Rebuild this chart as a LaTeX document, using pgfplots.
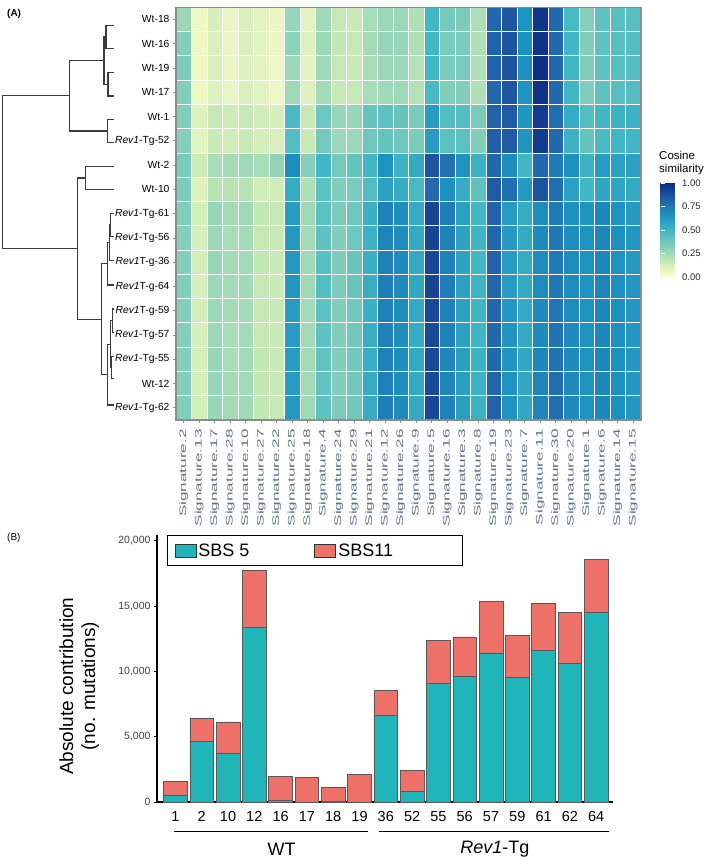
\documentclass[border=0pt]{standalone}
\usepackage{fontspec}
\setmainfont{Liberation Sans}
\usepackage{pgfplots}
\pgfplotsset{compat=1.18}
\definecolor{sbsteal}{RGB}{32,181,184}
\definecolor{sbsred}{RGB}{237,113,104}
\definecolor{sigcol}{RGB}{100,112,140}
\definecolor{framegray}{RGB}{140,140,140}
\definecolor{dendro}{RGB}{60,60,60}
\pgfplotsset{colormap={ylgnbu}{rgb255=(255,255,204) rgb255=(199,233,180) rgb255=(127,205,187) rgb255=(65,182,196) rgb255=(29,145,192) rgb255=(34,94,168) rgb255=(12,44,132)}}
\begin{document}
\begin{tikzpicture}
\useasboundingbox (0pt,0pt) rectangle (709pt,861pt);
% ---------------- dendrogram ----------------
\begin{axis}[at={(0pt,441pt)}, anchor=south west, scale only axis, width=176pt, height=420pt,
  xmin=0, xmax=176, ymin=0, ymax=420, y dir=reverse, hide axis, clip=false]
\addplot[dendro, line width=1.2pt] coordinates {(114.3,25.3) (106,25.3) (106,48.3) (114.3,48.3)};
\addplot[dendro, line width=1.2pt] coordinates {(114.3,72.3) (108,72.3) (108,96) (114.3,96)};
\addplot[dendro, line width=1.2pt] coordinates {(106,36.8) (104,36.8) (104,84.15) (108,84.15)};
\addplot[dendro, line width=1.2pt] coordinates {(114.3,119.3) (107.3,119.3) (107.3,142.7) (114.3,142.7)};
\addplot[dendro, line width=1.2pt] coordinates {(104,60.5) (69.3,60.5) (69.3,131) (107.3,131)};
\addplot[dendro, line width=1.2pt] coordinates {(114.3,166.7) (85.7,166.7) (85.7,189.3) (114.3,189.3)};
\addplot[dendro, line width=1.2pt] coordinates {(114.3,213.3) (110.5,213.3) (110.5,236.7) (114.3,236.7)};
\addplot[dendro, line width=1.2pt] coordinates {(110.5,225) (109.5,225) (109.5,260.7) (114.3,260.7)};
\addplot[dendro, line width=1.2pt] coordinates {(109.5,242.85) (107.3,242.85) (107.3,285) (114.3,285)};
\addplot[dendro, line width=1.2pt] coordinates {(114.3,309) (112.3,309) (112.3,332.7) (114.3,332.7)};
\addplot[dendro, line width=1.2pt] coordinates {(114.3,356.7) (111.3,356.7) (111.3,378.3) (114.3,378.3)};
\addplot[dendro, line width=1.2pt] coordinates {(112.3,320.85) (110.3,320.85) (110.3,367.5) (111.3,367.5)};
\addplot[dendro, line width=1.2pt] coordinates {(110.3,344.2) (107.3,344.2) (107.3,405) (114.3,405)};
\addplot[dendro, line width=1.2pt] coordinates {(107.3,263.9) (101.7,263.9) (101.7,374.6) (107.3,374.6)};
\addplot[dendro, line width=1.2pt] coordinates {(85.7,178) (77.3,178) (77.3,319.25) (101.7,319.25)};
\addplot[dendro, line width=1.2pt] coordinates {(69.3,95.75) (2.7,95.75) (2.7,248.6) (77.3,248.6)};
\end{axis}
% ---------------- heatmap ----------------
\begin{axis}[at={(176pt,441pt)}, anchor=south west, scale only axis, width=465pt, height=412.7pt,
  xmin=0.5, xmax=30.5, ymin=0.5, ymax=17.5, y dir=reverse, enlargelimits=false,
  colormap name=ylgnbu, point meta min=0, point meta max=1,
  xtick={1,...,30},
  xticklabels={Signature.2,Signature.13,Signature.17,Signature.28,Signature.10,Signature.27,Signature.22,Signature.25,Signature.18,Signature.4,Signature.24,Signature.29,Signature.21,Signature.12,Signature.26,Signature.9,Signature.5,Signature.16,Signature.3,Signature.8,Signature.19,Signature.23,Signature.7,Signature.11,Signature.30,Signature.20,Signature.1,Signature.6,Signature.14,Signature.15},
  ytick={1,...,17},
  yticklabels={Wt-18,Wt-16,Wt-19,Wt-17,Wt-1,\textit{Rev1}-Tg-52,Wt-2,Wt-10,\textit{Rev1}-Tg-61,\textit{Rev1}-Tg-56,\textit{Rev1}T-g-36,\textit{Rev1}T-g-64,\textit{Rev1}T-g-59,\textit{Rev1}-Tg-57,\textit{Rev1}-Tg-55,Wt-12,\textit{Rev1}-Tg-62},
  minor xtick={1.5,2.5,...,29.5}, minor ytick={1.5,2.5,...,16.5},
  xminorgrids=true, yminorgrids=true, minor grid style={white, line width=0.9pt},
  minor tick length=0pt,
  axis on top, tick pos=left, tick align=outside, major tick length=3pt,
  major tick style={framegray, line width=0.8pt},
  axis line style={framegray, line width=1.4pt},
  xticklabel style={rotate=90, xscale=1.8, anchor=east, font=\fontsize{9.5}{9.5}\selectfont, text=sigcol},
  yticklabel style={font=\fontsize{10.3}{10.3}\selectfont},
  colorbar,
  colorbar style={at={(652pt,584pt)}, anchor=south west, scale only axis, width=18pt, height=94pt,
    ytick={0,0.25,0.5,0.75,1}, yticklabels={0.00,0.25,0.50,0.75,1.00},
    ytick pos=both, yticklabel pos=right, tick align=inside, major tick length=4pt,
    major tick style={white, line width=0.9pt}, axis line style={draw=none},
    yticklabel style={font=\fontsize{9.5}{9.5}\selectfont, text=black!85}},
]
\addplot[matrix plot*, mesh/cols=30, point meta=explicit] coordinates {
(1,1)[0.27] (2,1)[0.05] (3,1)[0.12] (4,1)[0.07] (5,1)[0.11] (6,1)[0.09] (7,1)[0.06] (8,1)[0.28] (9,1)[0.09] (10,1)[0.26] (11,1)[0.17] (12,1)[0.16] (13,1)[0.24] (14,1)[0.27] (15,1)[0.27] (16,1)[0.22] (17,1)[0.50] (18,1)[0.36] (19,1)[0.34] (20,1)[0.23] (21,1)[0.80] (22,1)[0.86] (23,1)[0.66] (24,1)[0.97] (25,1)[0.80] (26,1)[0.48] (27,1)[0.32] (28,1)[0.42] (29,1)[0.44] (30,1)[0.44]
(1,2)[0.32] (2,2)[0.05] (3,2)[0.11] (4,2)[0.07] (5,2)[0.11] (6,2)[0.08] (7,2)[0.06] (8,2)[0.30] (9,2)[0.10] (10,2)[0.27] (11,2)[0.18] (12,2)[0.17] (13,2)[0.25] (14,2)[0.28] (15,2)[0.28] (16,2)[0.22] (17,2)[0.50] (18,2)[0.35] (19,2)[0.35] (20,2)[0.22] (21,2)[0.82] (22,2)[0.87] (23,2)[0.67] (24,2)[0.98] (25,2)[0.80] (26,2)[0.50] (27,2)[0.33] (28,2)[0.42] (29,2)[0.44] (30,2)[0.45]
(1,3)[0.34] (2,3)[0.05] (3,3)[0.11] (4,3)[0.06] (5,3)[0.10] (6,3)[0.08] (7,3)[0.05] (8,3)[0.27] (9,3)[0.09] (10,3)[0.26] (11,3)[0.17] (12,3)[0.16] (13,3)[0.24] (14,3)[0.27] (15,3)[0.27] (16,3)[0.21] (17,3)[0.50] (18,3)[0.35] (19,3)[0.35] (20,3)[0.22] (21,3)[0.82] (22,3)[0.87] (23,3)[0.67] (24,3)[0.99] (25,3)[0.80] (26,3)[0.50] (27,3)[0.33] (28,3)[0.42] (29,3)[0.44] (30,3)[0.45]
(1,4)[0.33] (2,4)[0.05] (3,4)[0.10] (4,4)[0.07] (5,4)[0.11] (6,4)[0.09] (7,4)[0.05] (8,4)[0.26] (9,4)[0.10] (10,4)[0.25] (11,4)[0.17] (12,4)[0.17] (13,4)[0.24] (14,4)[0.26] (15,4)[0.26] (16,4)[0.21] (17,4)[0.48] (18,4)[0.33] (19,4)[0.33] (20,4)[0.22] (21,4)[0.80] (22,4)[0.86] (23,4)[0.66] (24,4)[0.98] (25,4)[0.80] (26,4)[0.50] (27,4)[0.33] (28,4)[0.42] (29,4)[0.44] (30,4)[0.45]
(1,5)[0.33] (2,5)[0.10] (3,5)[0.17] (4,5)[0.15] (5,5)[0.17] (6,5)[0.14] (7,5)[0.12] (8,5)[0.47] (9,5)[0.17] (10,5)[0.38] (11,5)[0.28] (12,5)[0.28] (13,5)[0.40] (14,5)[0.42] (15,5)[0.40] (16,5)[0.35] (17,5)[0.62] (18,5)[0.45] (19,5)[0.45] (20,5)[0.35] (21,5)[0.82] (22,5)[0.85] (23,5)[0.65] (24,5)[0.95] (25,5)[0.78] (26,5)[0.55] (27,5)[0.45] (28,5)[0.50] (29,5)[0.52] (30,5)[0.52]
(1,6)[0.32] (2,6)[0.09] (3,6)[0.16] (4,6)[0.14] (5,6)[0.16] (6,6)[0.13] (7,6)[0.11] (8,6)[0.45] (9,6)[0.16] (10,6)[0.36] (11,6)[0.27] (12,6)[0.27] (13,6)[0.38] (14,6)[0.40] (15,6)[0.38] (16,6)[0.34] (17,6)[0.62] (18,6)[0.43] (19,6)[0.43] (20,6)[0.33] (21,6)[0.83] (22,6)[0.85] (23,6)[0.65] (24,6)[0.95] (25,6)[0.80] (26,6)[0.52] (27,6)[0.40] (28,6)[0.48] (29,6)[0.50] (30,6)[0.50]
(1,7)[0.35] (2,7)[0.15] (3,7)[0.24] (4,7)[0.25] (5,7)[0.26] (6,7)[0.24] (7,7)[0.29] (8,7)[0.68] (9,7)[0.32] (10,7)[0.50] (11,7)[0.36] (12,7)[0.40] (13,7)[0.50] (14,7)[0.66] (15,7)[0.52] (16,7)[0.56] (17,7)[0.87] (18,7)[0.77] (19,7)[0.66] (20,7)[0.52] (21,7)[0.80] (22,7)[0.68] (23,7)[0.50] (24,7)[0.80] (25,7)[0.74] (26,7)[0.67] (27,7)[0.52] (28,7)[0.62] (29,7)[0.60] (30,7)[0.60]
(1,8)[0.34] (2,8)[0.10] (3,8)[0.20] (4,8)[0.20] (5,8)[0.20] (6,8)[0.14] (7,8)[0.14] (8,8)[0.55] (9,8)[0.22] (10,8)[0.42] (11,8)[0.33] (12,8)[0.35] (13,8)[0.45] (14,8)[0.60] (15,8)[0.55] (16,8)[0.48] (17,8)[0.80] (18,8)[0.67] (19,8)[0.55] (20,8)[0.42] (21,8)[0.85] (22,8)[0.78] (23,8)[0.63] (24,8)[0.87] (25,8)[0.78] (26,8)[0.60] (27,8)[0.50] (28,8)[0.58] (29,8)[0.58] (30,8)[0.56]
(1,9)[0.33] (2,9)[0.13] (3,9)[0.28] (4,9)[0.25] (5,9)[0.26] (6,9)[0.18] (7,9)[0.17] (8,9)[0.62] (9,9)[0.26] (10,9)[0.43] (11,9)[0.34] (12,9)[0.38] (13,9)[0.53] (14,9)[0.72] (15,9)[0.68] (16,9)[0.55] (17,9)[0.92] (18,9)[0.73] (19,9)[0.60] (20,9)[0.50] (21,9)[0.82] (22,9)[0.62] (23,9)[0.55] (24,9)[0.68] (25,9)[0.74] (26,9)[0.67] (27,9)[0.65] (28,9)[0.70] (29,9)[0.66] (30,9)[0.63]
(1,10)[0.32] (2,10)[0.12] (3,10)[0.27] (4,10)[0.24] (5,10)[0.25] (6,10)[0.17] (7,10)[0.16] (8,10)[0.63] (9,10)[0.25] (10,10)[0.42] (11,10)[0.33] (12,10)[0.38] (13,10)[0.52] (14,10)[0.71] (15,10)[0.68] (16,10)[0.56] (17,10)[0.92] (18,10)[0.72] (19,10)[0.59] (20,10)[0.51] (21,10)[0.81] (22,10)[0.63] (23,10)[0.56] (24,10)[0.69] (25,10)[0.75] (26,10)[0.68] (27,10)[0.66] (28,10)[0.70] (29,10)[0.67] (30,10)[0.64]
(1,11)[0.32] (2,11)[0.13] (3,11)[0.28] (4,11)[0.25] (5,11)[0.25] (6,11)[0.18] (7,11)[0.16] (8,11)[0.63] (9,11)[0.26] (10,11)[0.44] (11,11)[0.34] (12,11)[0.39] (13,11)[0.53] (14,11)[0.72] (15,11)[0.69] (16,11)[0.56] (17,11)[0.91] (18,11)[0.72] (19,11)[0.59] (20,11)[0.50] (21,11)[0.82] (22,11)[0.62] (23,11)[0.55] (24,11)[0.68] (25,11)[0.74] (26,11)[0.68] (27,11)[0.66] (28,11)[0.70] (29,11)[0.66] (30,11)[0.63]
(1,12)[0.33] (2,12)[0.12] (3,12)[0.27] (4,12)[0.25] (5,12)[0.26] (6,12)[0.17] (7,12)[0.16] (8,12)[0.64] (9,12)[0.26] (10,12)[0.45] (11,12)[0.34] (12,12)[0.39] (13,12)[0.54] (14,12)[0.73] (15,12)[0.69] (16,12)[0.57] (17,12)[0.92] (18,12)[0.73] (19,12)[0.60] (20,12)[0.51] (21,12)[0.81] (22,12)[0.62] (23,12)[0.56] (24,12)[0.68] (25,12)[0.75] (26,12)[0.68] (27,12)[0.66] (28,12)[0.71] (29,12)[0.67] (30,12)[0.64]
(1,13)[0.32] (2,13)[0.13] (3,13)[0.27] (4,13)[0.25] (5,13)[0.25] (6,13)[0.17] (7,13)[0.16] (8,13)[0.62] (9,13)[0.25] (10,13)[0.42] (11,13)[0.33] (12,13)[0.37] (13,13)[0.53] (14,13)[0.72] (15,13)[0.68] (16,13)[0.56] (17,13)[0.90] (18,13)[0.72] (19,13)[0.60] (20,13)[0.51] (21,13)[0.81] (22,13)[0.64] (23,13)[0.56] (24,13)[0.69] (25,13)[0.76] (26,13)[0.68] (27,13)[0.66] (28,13)[0.70] (29,13)[0.67] (30,13)[0.64]
(1,14)[0.32] (2,14)[0.12] (3,14)[0.27] (4,14)[0.24] (5,14)[0.25] (6,14)[0.17] (7,14)[0.16] (8,14)[0.62] (9,14)[0.25] (10,14)[0.42] (11,14)[0.33] (12,14)[0.37] (13,14)[0.54] (14,14)[0.72] (15,14)[0.68] (16,14)[0.55] (17,14)[0.90] (18,14)[0.72] (19,14)[0.60] (20,14)[0.51] (21,14)[0.80] (22,14)[0.65] (23,14)[0.56] (24,14)[0.69] (25,14)[0.77] (26,14)[0.69] (27,14)[0.66] (28,14)[0.70] (29,14)[0.67] (30,14)[0.64]
(1,15)[0.32] (2,15)[0.12] (3,15)[0.28] (4,15)[0.24] (5,15)[0.25] (6,15)[0.18] (7,15)[0.16] (8,15)[0.62] (9,15)[0.25] (10,15)[0.41] (11,15)[0.33] (12,15)[0.37] (13,15)[0.54] (14,15)[0.72] (15,15)[0.68] (16,15)[0.56] (17,15)[0.90] (18,15)[0.71] (19,15)[0.61] (20,15)[0.52] (21,15)[0.80] (22,15)[0.65] (23,15)[0.57] (24,15)[0.70] (25,15)[0.77] (26,15)[0.69] (27,15)[0.66] (28,15)[0.70] (29,15)[0.67] (30,15)[0.64]
(1,16)[0.32] (2,16)[0.12] (3,16)[0.28] (4,16)[0.25] (5,16)[0.25] (6,16)[0.18] (7,16)[0.16] (8,16)[0.62] (9,16)[0.25] (10,16)[0.41] (11,16)[0.33] (12,16)[0.37] (13,16)[0.55] (14,16)[0.72] (15,16)[0.68] (16,16)[0.56] (17,16)[0.90] (18,16)[0.71] (19,16)[0.61] (20,16)[0.52] (21,16)[0.81] (22,16)[0.66] (23,16)[0.57] (24,16)[0.71] (25,16)[0.78] (26,16)[0.69] (27,16)[0.66] (28,16)[0.70] (29,16)[0.67] (30,16)[0.64]
(1,17)[0.33] (2,17)[0.13] (3,17)[0.28] (4,17)[0.25] (5,17)[0.26] (6,17)[0.18] (7,17)[0.17] (8,17)[0.63] (9,17)[0.26] (10,17)[0.42] (11,17)[0.34] (12,17)[0.37] (13,17)[0.55] (14,17)[0.73] (15,17)[0.69] (16,17)[0.56] (17,17)[0.91] (18,17)[0.72] (19,17)[0.61] (20,17)[0.52] (21,17)[0.82] (22,17)[0.66] (23,17)[0.57] (24,17)[0.71] (25,17)[0.78] (26,17)[0.69] (27,17)[0.66] (28,17)[0.70] (29,17)[0.67] (30,17)[0.64]
};
\end{axis}
% ---------------- stacked bars ----------------
\begin{axis}[at={(157pt,59pt)}, anchor=south west, scale only axis, width=456.3pt, height=267pt,
  xmin=0.3, xmax=17.65, ymin=0, ymax=20444, clip=false,
  ybar stacked, bar width=0.9,
  axis x line*=bottom, axis y line*=left, axis line style={-, line width=1.3pt, black},
  xtick={1,...,17}, xticklabels={1,2,10,12,16,17,18,19,36,52,55,56,57,59,61,62,64},
  xtick style={draw=none},
  xticklabel style={font=\fontsize{14.5}{14.5}\selectfont, yshift=-3pt},
  ytick={0,5000,10000,15000,20000}, scaled y ticks=false,
  /pgf/number format/1000 sep={,}, /pgf/number format/assume math mode=true,
  yticklabel style={font=\fontsize{10.5}{10.5}\selectfont, text=black!75},
  ytick style={black, line width=0.8pt}, tick align=outside, major tick length=3pt,
  ylabel={Absolute contribution\\(no. mutations)},
  ylabel style={align=center, font=\fontsize{19}{22}\selectfont, at={(axis description cs:-0.1705,0.434)}, anchor=center},
  legend columns=2,
  legend style={at={(0.0219,1)}, anchor=north west, draw=black, line width=1.1pt,
    font=\fontsize{18}{18}\selectfont, inner xsep=7pt, inner ysep=6pt,
    nodes={inner sep=2pt}},
  legend image code/.code={\draw[#1, draw=black!80, line width=0.9pt] (0pt,-6.5pt) rectangle (21pt,6.5pt);},
]
\addplot[fill=sbsteal, draw=black!65, line width=0.6pt] coordinates {
(1,540) (2,4650) (3,3730) (4,13380) (5,150) (6,0) (7,20) (8,0) (9,6610) (10,790) (11,9110) (12,9590) (13,11410) (14,9550) (15,11590) (16,10590) (17,14520)};
\addplot[fill=sbsred, draw=black!65, line width=0.6pt] coordinates {
(1,1045) (2,1782) (3,2396) (4,4331) (5,1818) (6,1891) (7,1075) (8,2120) (9,1943) (10,1607) (11,3271) (12,3044) (13,3958) (14,3184) (15,3624) (16,3935) (17,4033)};
\legend{SBS 5\hspace*{63pt}, SBS11\hspace*{60pt}}
\draw[black, line width=1pt] (axis cs:0.958,-2274) -- (axis cs:8.334,-2274);
\draw[black, line width=1pt] (axis cs:8.752,-2274) -- (axis cs:17.498,-2274);
\node[font=\fontsize{18}{18}\selectfont] at (axis cs:5.04,-3599) {WT};
\node[font=\fontsize{18}{18}\selectfont] at (axis cs:13.15,-3599) {\textit{Rev1}-Tg};
\end{axis}
% ---------------- free text ----------------
\node[anchor=west, inner sep=0pt, font=\bfseries\fontsize{10}{10}\selectfont] at (7pt,847pt) {(A)};
\node[anchor=west, inner sep=0pt, font=\fontsize{10}{10}\selectfont] at (7pt,323pt) {(B)};
\node[anchor=north west, align=left, inner sep=0pt, font=\fontsize{11.5}{13}\selectfont] at (659pt,710pt) {Cosine\\similarity};
\end{tikzpicture}
\end{document}
